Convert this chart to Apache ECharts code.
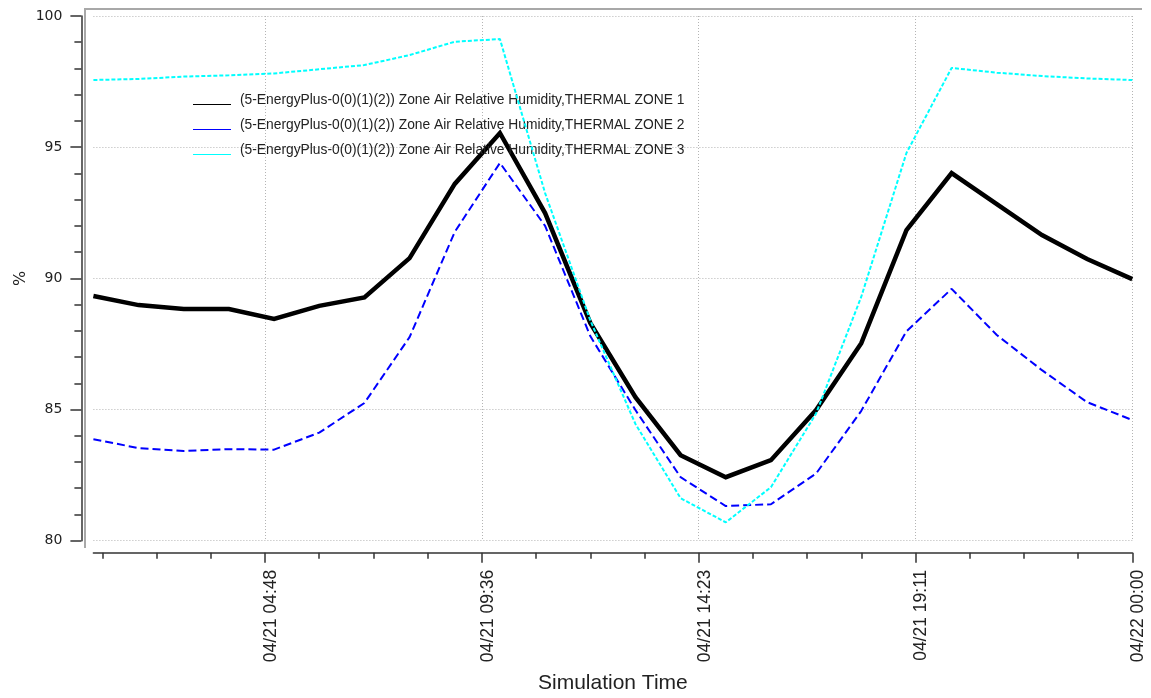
<!DOCTYPE html>
<html>
<head>
<meta charset="utf-8">
<title>Zone Air Relative Humidity</title>
<script src="https://cdn.jsdelivr.net/npm/echarts@6/dist/echarts.min.js"></script>
<style>
  html, body { margin: 0; padding: 0; background: #ffffff; }
  #chart { width: 1151px; height: 698px; }
</style>
</head>
<body>
<div id="chart"></div>
<script>
// Simulation hours on 04/21 (hour 24 = 04/22 00:00)
const hours = [1, 2, 3, 4, 5, 6, 7, 8, 9, 10, 11, 12, 13, 14, 15, 16, 17, 18, 19, 20, 21, 22, 23, 24];

// Zone air relative humidity, %
const zone1 = [89.33, 88.98, 88.83, 88.83, 88.45, 88.95, 89.27, 90.77, 93.6, 95.54, 92.49, 88.3, 85.47, 83.26, 82.42, 83.07, 84.98, 87.53, 91.84, 94.01, 92.83, 91.65, 90.74, 89.97];
const zone2 = [83.87, 83.53, 83.42, 83.49, 83.47, 84.12, 85.25, 87.76, 91.77, 94.4, 92.0, 87.8, 84.98, 82.42, 81.32, 81.39, 82.56, 84.95, 87.98, 89.6, 87.84, 86.5, 85.28, 84.6];
const zone3 = [97.56, 97.6, 97.69, 97.74, 97.81, 97.97, 98.13, 98.51, 99.02, 99.12, 93.25, 88.4, 84.45, 81.62, 80.7, 82.04, 84.85, 89.3, 94.78, 98.02, 97.84, 97.71, 97.62, 97.56];

const seriesNames = [
  '(5-EnergyPlus-0(0)(1)(2)) Zone Air Relative Humidity,THERMAL ZONE 1',
  '(5-EnergyPlus-0(0)(1)(2)) Zone Air Relative Humidity,THERMAL ZONE 2',
  '(5-EnergyPlus-0(0)(1)(2)) Zone Air Relative Humidity,THERMAL ZONE 3'
];
const seriesColors = ['#000000', '#0000ff', '#00ffff'];

// Time axis ticks (hours) and their labels
const majorTickHours = [4.8, 9.6, 14.4, 19.2, 24];
const majorTickLabels = ['04/21 04:48', '04/21 09:36', '04/21 14:23', '04/21 19:11', '04/22 00:00'];
const minorTickHours = [1.2, 2.4, 3.6, 6.0, 7.2, 8.4, 10.8, 12.0, 13.2, 15.6, 16.8, 18.0, 20.4, 21.6, 22.8];

const pair = vals => hours.map((h, i) => [h, vals[i]]);

// Legend swatch: a 1px line sitting low in a 42x14 box (corner specks pin the box size)
const legendSwatch = 'path://M0,0h0.01v0.01h-0.01z M41.99,13.99h0.01v0.01h-0.01z M0,11h38v1h-38z';

const chart = echarts.init(document.getElementById('chart'), null, { renderer: 'canvas' });

const gridDash = { color: '#b4b4b4', width: 1, type: [1, 2] };
const axisDark = '#333333';
const labelColor = '#222222';

chart.setOption({
  backgroundColor: '#ffffff',
  animation: false,
  grid: {
    left: 93.4, right: 18.7, top: 16, bottom: 157.3,
    outerBoundsMode: 'none',
    containLabel: false
  },
  legend: {
    orient: 'vertical',
    left: 193,
    top: 93,
    padding: 0,
    itemGap: 11,
    itemWidth: 42,
    itemHeight: 14,
    selectedMode: false,
    textStyle: {
      fontFamily: '"Liberation Sans", Arial, sans-serif',
      fontSize: 13.8,
      color: labelColor,
      lineHeight: 14
    },
    data: seriesNames.map((n, i) => ({
      name: n,
      icon: legendSwatch,
      itemStyle: { color: seriesColors[i], borderColor: seriesColors[i], borderWidth: 0, opacity: 1 },
      lineStyle: { color: seriesColors[i], width: 0 }
    }))
  },
  xAxis: [
    {
      type: 'value',
      min: 1,
      max: 24,
      position: 'bottom',
      offset: 12,
      name: 'Simulation Time',
      nameLocation: 'middle',
      nameGap: 120,
      nameMoveOverlap: false,
      nameTextStyle: {
        fontFamily: '"Liberation Sans", Arial, sans-serif',
        fontSize: 21,
        color: labelColor
      },
      axisLine: { show: true, lineStyle: { color: axisDark, width: 1.5 } },
      axisTick: {
        show: true,
        length: 10,
        lineStyle: { color: axisDark, width: 1.5 },
        customValues: majorTickHours
      },
      axisLabel: {
        show: true,
        rotate: 90,
        margin: 17,
        verticalAlign: 'top',
        lineHeight: 12,
        fontFamily: '"Liberation Sans", Arial, sans-serif',
        fontSize: 17.5,
        color: labelColor,
        customValues: majorTickHours,
        formatter: v => {
          const i = majorTickHours.findIndex(t => Math.abs(t - v) < 1e-6);
          return i >= 0 ? majorTickLabels[i] : '';
        }
      },
      splitLine: { show: true, lineStyle: gridDash }
    },
    {
      // minor ticks along the time axis
      type: 'value',
      min: 1,
      max: 24,
      position: 'bottom',
      offset: 12,
      axisLine: { show: false },
      axisTick: {
        show: true,
        length: 6,
        lineStyle: { color: axisDark, width: 1.5 },
        customValues: minorTickHours
      },
      axisLabel: { show: false },
      splitLine: { show: false }
    }
  ],
  yAxis: {
    type: 'value',
    min: 80,
    max: 100,
    interval: 5,
    offset: 12,
    name: '%',
    nameLocation: 'middle',
    nameGap: 53,
    nameRotate: 90,
    nameMoveOverlap: false,
    nameTextStyle: {
      fontFamily: '"DejaVu Sans", sans-serif',
      fontSize: 16,
      color: labelColor
    },
    axisLine: { show: true, lineStyle: { color: axisDark, width: 1.5 } },
    axisTick: { show: true, length: 11, lineStyle: { color: axisDark, width: 1.5 } },
    minorTick: { show: true, splitNumber: 5, length: 7, lineStyle: { color: axisDark, width: 1.5 } },
    axisLabel: {
      margin: 19,
      fontFamily: '"DejaVu Sans", sans-serif',
      fontSize: 14,
      color: labelColor
    },
    splitLine: { show: true, lineStyle: gridDash }
  },
  graphic: [
    // plot frame (left and top edges)
    {
      type: 'polyline',
      silent: true,
      z: 0,
      shape: { points: [[85, 548], [85, 9], [1142, 9]] },
      style: { stroke: '#a8a8a8', lineWidth: 2, fill: null }
    }
  ],
  series: [
    {
      name: seriesNames[0],
      type: 'line',
      data: pair(zone1),
      showSymbol: false,
      symbol: 'none',
      itemStyle: { color: seriesColors[0] },
      lineStyle: { color: seriesColors[0], width: 4.5, join: 'miter' },
      z: 2
    },
    {
      name: seriesNames[1],
      type: 'line',
      data: pair(zone2),
      showSymbol: false,
      symbol: 'none',
      itemStyle: { color: seriesColors[1] },
      lineStyle: { color: seriesColors[1], width: 2, type: [8, 4] },
      z: 3
    },
    {
      name: seriesNames[2],
      type: 'line',
      data: pair(zone3),
      showSymbol: false,
      symbol: 'none',
      itemStyle: { color: seriesColors[2] },
      lineStyle: { color: seriesColors[2], width: 2, type: [4, 2] },
      z: 4
    }
  ]
});
</script>
</body>
</html>
